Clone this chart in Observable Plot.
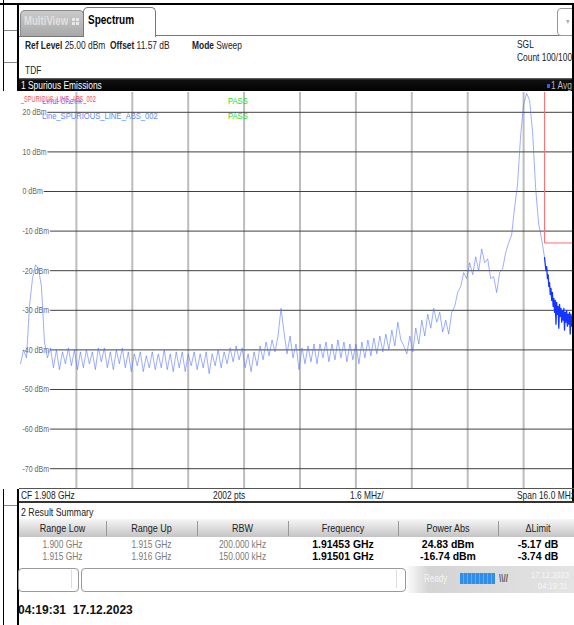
<!DOCTYPE html>
<html><head><meta charset="utf-8">
<script src="https://cdn.jsdelivr.net/npm/d3@7"></script>
<script src="https://cdn.jsdelivr.net/npm/@observablehq/plot@0.6"></script>
<style>
html,body{margin:0;padding:0;background:#fff;overflow:hidden;}
body{width:574px;height:625px;position:relative;font-family:"Liberation Sans",Arial,sans-serif;font-size:10.5px;color:#222;}
.a{position:absolute;}
.blk{position:absolute;background:#000;}
.t{position:absolute;white-space:nowrap;font-family:"Liberation Sans",Arial,sans-serif;font-size:10.5px;color:#222;transform:scaleX(.8);transform-origin:0 0;line-height:13px;}
.b{font-weight:bold;}
.hd{position:absolute;top:519px;height:18px;line-height:18px;text-align:center;color:#222;font-size:11px;white-space:nowrap;transform:scaleX(.82);transform-origin:50% 0;}
.cell{position:absolute;text-align:center;line-height:12px;white-space:nowrap;}
.g{color:#7a7a7a;font-size:10.5px;transform:scaleX(.8);transform-origin:50% 0;}
.k{color:#000;font-weight:bold;font-size:11px;transform:scaleX(.95);transform-origin:50% 0;}
.lg{font-size:9.5px;}
</style></head><body>

<!-- neighbouring window strip -->
<div class="blk" style="left:3px;top:0;width:1px;height:625px;"></div>
<div id="leftstrip"></div>

<!-- frame -->
<div class="blk" style="left:0;top:3px;width:574px;height:2px;"></div>
<div class="blk" style="left:17px;top:3px;width:2px;height:622px;"></div>

<!-- tabs -->
<div class="a" style="left:20px;top:10px;width:62px;height:25px;background:linear-gradient(#cbcbcb,#a8a8a8);border:1px solid #888;border-bottom:none;border-radius:5px 5px 0 0;"></div>
<div class="t b" style="left:24px;top:15px;font-size:12px;color:#e0e0e0;">MultiView</div>
<div class="a" style="left:72px;top:18px;width:3px;height:3px;background:#e8e8e8;box-shadow:4px 0 #e8e8e8,0 4px #e8e8e8,4px 4px #e8e8e8;"></div>
<div class="a" style="left:83px;top:7px;width:71px;height:29px;background:#fff;border:1px solid #777;border-bottom:none;border-radius:5px 5px 0 0;"></div>
<div class="t b" style="left:88px;top:14px;font-size:12.5px;color:#000;">Spectrum</div>
<div class="a" style="left:19px;top:36px;width:64px;height:1px;background:#777;"></div>
<div class="a" style="left:155px;top:35px;width:419px;height:1px;background:#777;"></div>
<div class="a" style="left:557px;top:8px;width:20px;height:26px;border:1px solid #999;border-radius:4px;background:#fff;"></div>
<div class="t" style="left:565px;top:15px;font-size:7px;color:#aaa;">▼</div>

<!-- info -->
<div class="t" style="left:25px;top:39px;"><span class="b">Ref Level</span> 25.00 dBm</div>
<div class="t" style="left:110px;top:39px;"><span class="b">Offset</span> 11.57 dB</div>
<div class="t" style="left:192px;top:39px;"><span class="b">Mode</span> Sweep</div>
<div class="t" style="left:517px;top:38px;">SGL</div>
<div class="t" style="left:517px;top:51px;">Count 100/100</div>
<div class="t" style="left:25px;top:64px;">TDF</div>

<!-- header bar -->
<div class="a" style="left:19px;top:78px;width:555px;height:14px;background:linear-gradient(#777 0,#111 2px,#000 100%);"></div>
<div class="t" style="left:21px;top:79px;color:#fff;">1 Spurious Emissions</div>
<div class="a" style="left:547px;top:84px;width:3px;height:4px;background:#2a5cff;"></div>
<div class="t" style="left:551px;top:79px;color:#bbb;">1 Avg</div>

<!-- plot -->
<div id="chart" class="a" style="left:0;top:91px;"></div>

<!-- legend inside plot -->
<div class="t" style="left:21px;top:93px;font-size:8.5px;color:#ff4d4d;transform:scaleX(.66);">_SPURIOUS_LINE_ABS_002</div>
<div class="t lg" style="left:42px;top:94px;color:#5a8cff;">Limit Check</div>
<div class="t lg" style="left:228px;top:94px;color:#22dd22;">PASS</div>
<div class="t lg" style="left:42px;top:109px;color:#5a8cff;">Line_SPURIOUS_LINE_ABS_002</div>
<div class="t lg" style="left:228px;top:109px;color:#22dd22;">PASS</div>

<!-- right frame bar -->
<div class="blk" style="left:572px;top:3px;width:2px;height:500px;"></div>

<!-- footer of diagram -->
<div class="a" style="left:19px;top:488px;width:555px;height:1px;background:#555;"></div>
<div class="t" style="left:21px;top:489px;">CF 1.908 GHz</div>
<div class="t" style="left:213px;top:489px;">2002 pts</div>
<div class="t" style="left:350px;top:489px;">1.6 MHz/</div>
<div class="t" style="left:517px;top:489px;">Span 16.0 MHz</div>
<div class="a" style="left:19px;top:501px;width:555px;height:2px;background:#333;"></div>

<!-- result summary -->
<div class="t" style="left:21px;top:506px;font-size:11px;">2 Result Summary</div>
<div class="a" style="left:19px;top:519px;width:555px;height:18px;background:linear-gradient(#f6f6f6,#c4c4c4);"></div>
<div id="table"></div>

<!-- status bar -->
<div class="a" style="left:19px;top:566px;width:555px;height:27px;background:linear-gradient(90deg,#fff 0,#fff 386px,#d4d4d4 410px,#e4e4e4 100%);"></div>
<div class="a" style="left:18px;top:568px;width:59px;height:22px;border:1px solid #9a9a9a;border-radius:4px;background:#fff;"></div>
<div class="a" style="left:71px;top:570px;width:1px;height:18px;background:#ddd;"></div>
<div class="a" style="left:81px;top:568px;width:323px;height:22px;border:1px solid #9a9a9a;border-radius:4px;background:#fff;"></div>
<div class="a" style="left:396px;top:570px;width:1px;height:18px;background:#ddd;"></div>
<div class="t" style="left:424px;top:572px;font-size:10px;color:#f4f4f4;">Ready</div>
<div class="a" style="left:460px;top:573px;width:35px;height:11px;background:repeating-linear-gradient(90deg,#2f8fe8 0,#2f8fe8 3px,#5aaaf0 3px,#5aaaf0 4px);"></div>
<div class="t b" style="left:499px;top:572px;font-size:10px;color:#555;">\\//</div>
<div class="t" style="left:531px;top:568px;font-size:9.5px;color:#f6f6f6;">17.12.2023</div>
<div class="t" style="left:538px;top:579px;font-size:9.5px;color:#f6f6f6;">04:19:31</div>

<div class="t b" style="left:18px;top:604px;font-size:12px;color:#111;transform:none;">04:19:31&nbsp;&nbsp;17.12.2023</div>

<script>
// ---------- data ----------
const refLevel = 25;          // dBm (top of diagram)
const bottomLevel = -75;      // dBm
const spanStart = 1.900, spanStop = 1.916;  // GHz (CF 1.908 GHz, span 16 MHz)
const gridFreqs = [1.9016, 1.9032, 1.9048, 1.9064, 1.908, 1.9096, 1.9112, 1.9128, 1.9144];
const gridLevels = [20, 10, 0, -10, -20, -30, -40, -50, -60, -70];

// range 1: 1.900 - 1.915 GHz (levels, evenly spaced sweep points)
const rangeA = [1.900, 1.915];
const levelsA = [
 -43.5,-40,-42,-29,-22,-18.5,-19.5,-24,-38,
 -42,-39.5,-44.5,-40,-45,-40.5,-43.5,-39.5,-44,-40,-45,
 -40.5,-44.5,-40,-43.5,-40.5,-45,-39.5,-43,-39.5,-44.5,
 -40.5,-45,-40,-43.5,-39.5,-44.5,-40.5,-45.5,-41,-44,
 -40.5,-45.5,-41.5,-44.5,-40.5,-45,-41,-44.5,-40,-45,
 -41,-45.5,-40.5,-44.5,-40.5,-45.5,-41,-44,-40.5,-45,
 -41,-44.5,-40.5,-46,-41,-44,-40,-44.5,-40.5,-43.5,
 -39.5,-43,-39,-42.5,-39.5,-44.5,-41,-45.5,-40.5,-44,
 -39,-42.5,-38,-41.5,-37.5,-40.5,-36.5,-29.5,-35.5,-41,
 -36.5,-42,-38.5,-45,-39.5,-43.5,-39,-43,-38.5,-43.5,
 -38.5,-42,-38,-43,-38.5,-42.5,-37.5,-42,-38,-43,
 -38.5,-42.5,-38.5,-43.5,-38,-42,-37.5,-41.5,-37,-41,
 -36.5,-40.5,-36,-40,-35,-39,-33,-37.5,-39,-41,
 -36.5,-40.5,-34.5,-38.5,-32.5,-36.5,-31,-34.5,-29.5,-33,
 -30.5,-35.5,-32.5,-36,-30.5,-29,-25.5,-24,-20.5,-22,
 -18,-21,-16.5,-20,-14.5,-18,-17,-22,-21.5,-25.5,
 -20.5,-19.5,-15.5,-13,-11,-4,2,14,22,24.8,
 23,15,1,-8,-12,-16.7
];
// range 2: 1.915 - 1.916 GHz (dense sweep points)
const rangeB = [1.915, 1.916];
const levelsB = [
 -16.7,-18.5,-20,-19,-22,-21,-24,-23,-26,-24.5,
 -27.5,-25.5,-29,-27,-30.5,-27.5,-33.5,-28,-31,-29,
 -34.5,-28.5,-31.5,-29.5,-33,-30,-32.5,-29.5,-35,-30.5,
 -33,-30,-34,-31,-33.5,-30.5,-36,-31,-34,-31.5,
 -35,-31,-34.5,-32,-36.5,-31.5,-34,-32,-35.5,-32.5
];
// limit line (_SPURIOUS_LINE_ABS_002)
const limitFreqs = [1.900, 1.915, 1.915, 1.916];
const limitLevels = [30, 30, -13, -13];

// result table
const colHeads = ["Range Low","Range Up","RBW","Frequency","Power Abs","ΔLimit"];
const rangeLow = ["1.900 GHz","1.915 GHz"];
const rangeUp = ["1.915 GHz","1.916 GHz"];
const rbw = ["200.000 kHz","150.000 kHz"];
const peakFreq = ["1.91453 GHz","1.91501 GHz"];
const powerAbs = ["24.83 dBm","-16.74 dBm"];
const deltaLimit = ["-5.17 dB","-3.74 dB"];

// ---------- build ----------
const sweep = (lv, r) => lv.map((v, i) => ({f: r[0] + i * (r[1] - r[0]) / (lv.length - 1), dBm: v}));
const traceA = sweep(levelsA, rangeA);
const traceB = sweep(levelsB, rangeB);
const limit = limitFreqs.map((f, i) => ({f, dBm: limitLevels[i]}));

const chart = Plot.plot({
  width: 580, height: 398,
  marginLeft: 20, marginRight: 1, marginTop: 1, marginBottom: 1,
  x: {domain: [spanStart, spanStop], axis: null},
  y: {domain: [bottomLevel, refLevel], axis: null},
  style: {background: "white", overflow: "visible", maxWidth: "none"},
  marks: [
    Plot.ruleX(gridFreqs, {stroke: "#bdbdbd", strokeWidth: 2}),
    Plot.ruleY(gridLevels, {stroke: "#404040", strokeWidth: 1, insetLeft: 3}),
    Plot.text(gridLevels, {x: spanStart, y: d => d, text: d => `${d} dBm`, textAnchor: "start", dx: 2,
      fill: "#666", stroke: "white", strokeWidth: 3, fontSize: 9, fontFamily: "Liberation Sans, Arial, sans-serif"}),
    Plot.line(limit, {x: "f", y: "dBm", stroke: "#ff6a6a", strokeWidth: 1, clip: true}),
    Plot.line(traceA, {x: "f", y: "dBm", stroke: "#4d6bff", strokeOpacity: 0.55, strokeWidth: 1, clip: true}),
    Plot.line(traceB, {x: "f", y: "dBm", stroke: "#1434ff", strokeWidth: 1.3, clip: true})
  ]
});
document.getElementById("chart").appendChild(chart);
// condense the level labels like the instrument font
chart.querySelectorAll('g[aria-label="text"] text').forEach(t => {
  const L = t.getComputedTextLength();
  t.setAttribute("textLength", (L * 0.78).toFixed(1));
  t.setAttribute("lengthAdjust", "spacingAndGlyphs");
});

// table
const cols = [
  {x0: 19, x1: 106, vals: rangeLow, cls: "g"},
  {x0: 106, x1: 197, vals: rangeUp, cls: "g"},
  {x0: 197, x1: 288, vals: rbw, cls: "g"},
  {x0: 288, x1: 398, vals: peakFreq, cls: "k"},
  {x0: 398, x1: 498, vals: powerAbs, cls: "k"},
  {x0: 498, x1: 578, vals: deltaLimit, cls: "k"}
];
const tbl = document.getElementById("table");
cols.forEach((c, j) => {
  const h = document.createElement("div");
  h.className = "hd";
  h.style.left = c.x0 + "px"; h.style.width = (c.x1 - c.x0) + "px";
  h.textContent = colHeads[j];
  tbl.appendChild(h);
  if (j > 0) {
    const s = document.createElement("div");
    s.className = "a";
    s.style.cssText = `left:${c.x0}px;top:521px;width:1px;height:15px;background:#999;`;
    tbl.appendChild(s);
  }
  c.vals.forEach((v, r) => {
    const d = document.createElement("div");
    d.className = "cell " + c.cls;
    d.style.left = c.x0 + "px"; d.style.width = (c.x1 - c.x0) + "px";
    d.style.top = (538 + r * 12) + "px";
    d.textContent = v;
    tbl.appendChild(d);
  });
});

// neighbouring window strip (partial, left of frame)
const strip = document.getElementById("leftstrip");
const stripLines = [30, 62, 124, 163, 203, 282, 361, 400, 440, 480, 505];
stripLines.forEach(y => {
  const d = document.createElement("div");
  d.className = "a";
  d.style.cssText = `left:4px;top:${y}px;width:13px;height:1px;background:#888;`;
  strip.appendChild(d);
});
const red = document.createElement("div");
red.className = "a"; red.style.cssText = "left:0;top:242px;width:12px;height:1px;background:#ff4040;";
strip.appendChild(red);
const blue = document.createElement("div");
blue.className = "a"; blue.style.cssText = "left:0;top:320px;width:7px;height:10px;background:#2250ff;";
strip.appendChild(blue);
</script>
</body></html>
